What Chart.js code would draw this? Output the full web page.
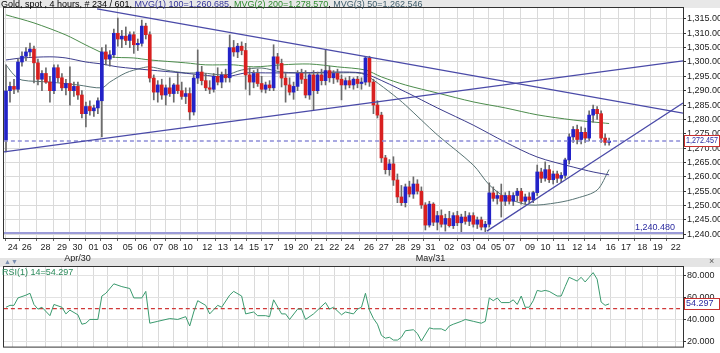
<!DOCTYPE html>
<html>
<head>
<meta charset="utf-8">
<script src="https://cdn.jsdelivr.net/npm/chart.js@4.4.1/dist/chart.umd.min.js"></script>
<style>
body { margin:0; width:720px; height:353px; background:#fff; overflow:hidden; position:relative;
       font-family:'Liberation Sans Narrow','Liberation Sans',Arial,sans-serif; }
#head { position:absolute; left:0; top:0; width:720px; height:8px; background:#e8e8e8; }
#title { position:absolute; left:1px; top:-1px; font-size:9px; line-height:10px; white-space:nowrap; color:#000; z-index:2; }
#sep { position:absolute; left:0; top:258px; width:720px; height:9px; background:#e4e4e4; }
#arrows { position:absolute; left:4px; top:257px; font-size:7px; line-height:9px; color:#7a8fb0; z-index:2; }
#close { position:absolute; left:709px; top:256px; font-size:9px; line-height:10px; color:#555; z-index:2; }
#rsiLabel { position:absolute; left:2px; top:267px; font-size:9px; line-height:10px; color:#2a8a5a; z-index:2; }
#main { position:absolute; left:0; top:0; z-index:1; }
#rsi { position:absolute; left:0; top:260px; z-index:1; }
</style>
</head>
<body>
<div id="head"></div>
<div id="sep"></div>
<canvas id="main" width="720" height="262"></canvas>
<canvas id="rsi" width="720" height="93"></canvas>
<div id="title">Gold, spot , 4 hours, # 234 / 601, <span style="color:#333399">MVG(1) 100=1,260.685</span>, <span style="color:#2e8b2e">MVG(2) 200=1,278.570</span>, <span style="color:#3d5c6b">MVG(3) 50=1,262.546</span></div>
<div id="arrows">&#9650;&#9660;</div>
<div id="close">&#215;</div>
<div id="rsiLabel">RSI(1) 14=54.297</div>
<script>
// 4h candles
const opens = [1272.8,1290.0,1291.5,1290.5,1300.0,1302.0,1303.5,1304.5,1299.7,1294.0,
  1296.0,1293.0,1290.0,1298.0,1294.5,1291.0,1292.5,1290.0,1291.5,1288.5,
  1282.0,1284.5,1283.0,1284.0,1286.5,1303.5,1301.0,1302.5,1310.0,1308.0,
  1309.0,1307.5,1309.5,1306.0,1306.5,1312.5,1309.5,1294.4,1289.5,1292.0,
  1288.5,1291.0,1289.0,1292.0,1290.0,1288.0,1289.0,1282.6,1294.4,1296.5,
  1293.5,1291.0,1290.5,1295.0,1293.0,1295.5,1294.5,1305.0,1303.5,1305.5,
  1304.0,1295.5,1293.0,1296.0,1292.5,1290.5,1292.0,1291.0,1301.8,1299.5,
  1294.4,1292.0,1289.5,1291.5,1296.0,1294.0,1288.5,1295.5,1290.0,1295.5,
  1293.5,1297.0,1294.5,1296.0,1294.0,1292.0,1293.5,1292.0,1294.0,1292.5,
  1293.0,1301.4,1293.0,1285.0,1281.5,1266.6,1262.5,1264.5,1258.9,1253.0,
  1251.0,1256.5,1254.0,1257.5,1255.0,1250.2,1243.2,1250.5,1244.2,1246.5,
  1243.5,1245.5,1243.0,1246.5,1244.0,1246.0,1244.5,1246.5,1243.5,1245.0,
  1242.5,1243.5,1254.4,1252.5,1253.5,1251.5,1253.5,1251.5,1253.5,1255.0,
  1251.5,1253.0,1252.0,1254.5,1261.7,1259.5,1262.5,1259.0,1261.0,1259.5,
  1260.5,1265.9,1273.9,1276.5,1273.0,1275.5,1273.5,1281.5,1283.5,1282.0,
  1273.5,1272.0];
const highs = [1299.0,1293.0,1294.0,1301.0,1303.5,1305.0,1306.6,1305.5,1301.0,1297.0,
  1298.0,1295.0,1299.0,1299.0,1296.0,1294.0,1298.3,1293.0,1293.0,1290.0,
  1286.0,1286.5,1285.0,1287.5,1305.0,1306.0,1304.0,1311.5,1315.3,1311.0,
  1312.2,1310.5,1310.5,1308.0,1314.6,1313.5,1310.5,1295.5,1293.5,1294.0,
  1292.0,1294.5,1292.5,1296.0,1293.0,1291.0,1291.0,1295.5,1304.2,1298.5,
  1296.0,1293.5,1296.0,1298.0,1296.5,1297.5,1309.4,1307.5,1306.5,1307.0,
  1306.5,1298.0,1297.0,1297.5,1295.0,1293.0,1293.5,1306.0,1303.0,1301.0,
  1296.0,1294.5,1293.0,1297.0,1297.5,1297.0,1296.0,1297.0,1296.5,1297.5,
  1304.2,1298.5,1297.0,1297.5,1295.5,1294.5,1295.0,1294.5,1295.0,1294.5,
  1301.8,1302.0,1294.0,1286.5,1282.5,1267.5,1266.0,1267.0,1261.0,1257.0,
  1257.5,1258.5,1260.0,1259.0,1256.5,1251.0,1251.5,1251.0,1248.0,1248.5,
  1247.0,1248.0,1247.5,1248.0,1247.0,1248.0,1247.5,1247.5,1246.0,1246.0,
  1244.5,1257.9,1256.5,1255.0,1257.5,1254.5,1255.0,1254.5,1256.0,1256.0,
  1254.0,1254.5,1255.0,1264.1,1263.0,1265.2,1264.0,1262.0,1262.0,1261.5,
  1266.5,1275.0,1277.5,1278.0,1277.4,1277.0,1283.0,1285.0,1284.5,1283.0,
  1275.0,1273.5];
const lows = [1268.7,1286.0,1289.0,1289.5,1298.5,1300.5,1302.0,1292.7,1292.0,1290.0,
  1292.5,1286.0,1289.0,1293.0,1290.0,1288.5,1285.0,1288.0,1287.0,1280.5,
  1277.4,1281.5,1281.0,1282.0,1273.9,1299.0,1298.5,1301.5,1305.5,1305.0,
  1306.0,1305.0,1303.0,1304.0,1305.5,1308.0,1293.0,1286.8,1286.0,1287.0,
  1285.0,1288.0,1286.0,1289.0,1287.0,1285.5,1279.8,1281.5,1292.5,1292.0,
  1290.0,1289.0,1289.5,1292.0,1291.0,1293.0,1293.0,1302.0,1301.5,1302.5,
  1290.5,1288.5,1291.0,1291.5,1289.5,1289.2,1290.0,1290.0,1297.5,1291.3,
  1286.0,1288.5,1287.0,1290.0,1292.5,1287.5,1287.0,1283.3,1289.0,1292.0,
  1292.0,1293.0,1292.5,1293.0,1286.8,1290.5,1291.0,1290.5,1291.0,1290.5,
  1292.0,1291.5,1282.0,1280.5,1265.0,1261.0,1260.5,1257.0,1251.0,1250.0,
  1249.5,1253.0,1252.5,1254.0,1249.0,1241.5,1242.5,1243.0,1241.5,1242.5,
  1241.1,1242.5,1242.0,1243.0,1240.8,1243.5,1243.0,1242.5,1242.0,1241.5,
  1240.48,1242.5,1251.5,1250.5,1246.0,1250.0,1250.5,1250.0,1251.5,1250.5,
  1250.5,1251.0,1251.0,1253.5,1258.0,1258.5,1258.0,1257.5,1258.0,1258.0,
  1259.5,1264.5,1272.0,1271.5,1271.5,1272.0,1272.5,1279.0,1280.0,1272.0,
  1271.0,1271.0];
const closes = [1289.9,1291.5,1290.5,1300.0,1302.0,1303.5,1304.5,1299.7,1294.0,1296.0,
  1293.0,1290.0,1298.0,1294.5,1291.0,1292.5,1290.0,1291.5,1288.5,1282.0,
  1284.5,1283.0,1284.0,1286.5,1303.5,1301.0,1302.5,1310.0,1308.0,1309.0,
  1307.5,1309.5,1306.0,1306.5,1312.5,1309.5,1294.4,1289.5,1292.0,1288.5,
  1291.0,1289.0,1292.0,1290.0,1288.0,1289.0,1282.6,1294.4,1296.5,1293.5,
  1291.0,1290.5,1295.0,1293.0,1295.5,1294.5,1305.0,1303.5,1305.5,1304.0,
  1295.5,1293.0,1296.0,1292.5,1290.5,1292.0,1291.0,1301.8,1299.5,1294.4,
  1292.0,1289.5,1291.5,1296.0,1294.0,1288.5,1295.5,1290.0,1295.5,1293.5,
  1297.0,1294.5,1296.0,1294.0,1292.0,1293.5,1292.0,1294.0,1292.5,1293.0,
  1301.4,1293.0,1285.0,1281.5,1266.6,1262.5,1264.5,1258.9,1253.0,1251.0,
  1256.5,1254.0,1257.5,1255.0,1250.2,1243.2,1250.5,1244.2,1246.5,1243.5,
  1245.5,1243.0,1246.5,1244.0,1246.0,1244.5,1246.5,1243.5,1245.0,1242.5,
  1243.5,1254.4,1252.5,1253.5,1251.5,1253.5,1251.5,1253.5,1255.0,1251.5,
  1253.0,1252.0,1254.5,1261.7,1259.5,1262.5,1259.0,1261.0,1259.5,1260.5,
  1265.9,1273.9,1276.5,1273.0,1275.5,1273.5,1281.5,1283.5,1282.0,1273.5,
  1272.0,1272.457];

// moving averages, sampled at candle index
const ma200At = [0,7,15,20,24,26,32,36,45,50,57,62,69,76,83,90,94,100,108,117,125,133,142,147,151];
const ma200 = [1316.4,1313.6,1309.4,1305.9,1303.2,1301.8,1301.4,1300.7,1299.7,1299.0,1299.0,1298.3,1299.0,1299.3,1298.3,1297.2,1294.8,1292.0,1289.2,1286.1,1284.0,1281.6,1279.8,1279.1,1278.57];
const ma100At = [0,4,11,15,20,24,28,36,44,49,55,60,65,74,83,89,92,100,108,117,125,133,142,147,151];
const ma100 = [1300.7,1301.4,1301.8,1301.4,1300.0,1299.3,1298.3,1297.2,1296.2,1295.5,1294.8,1296.2,1296.2,1296.2,1296.5,1296.2,1294.8,1289.6,1284.0,1278.0,1272.1,1266.9,1263.4,1261.7,1260.685];
const ma50At = [0,2,4,11,18,24,26,30,34,36,40,45,49,55,59,64,69,76,83,89,92,97,100,108,117,121,125,131,138,143,148,151];
const ma50 = [1299.0,1295.5,1293.7,1293.0,1292.0,1291.0,1293.0,1296.2,1297.9,1298.3,1297.2,1296.2,1296.2,1295.5,1297.2,1297.9,1296.5,1296.2,1296.2,1296.0,1293.7,1288.5,1285.0,1274.6,1264.1,1257.2,1253.0,1250.2,1251.0,1252.6,1255.4,1262.546];

// trend lines: [startIndex, startValue, endIndex, endValue]
const trendDown = [22.8, 1318.5, 169.5, 1282.2];
const trendUpLong = [-0.5, 1268.7, 169.5, 1300.4];
const trendUpShort = [120.4, 1241.1, 169.5, 1285.7];
const lastPrice = 1272.457;
const periodLow = 1240.48;

// RSI(14), sampled at candle index
const rsiAt = [0,1,2,3,5,6,7,8,9,11,12,14,15,16,18,19,20,21,23,24,25,27,29,31,32,34,35,36,38,41,
  43,45,46,47,48,50,51,53,54,56,57,59,60,62,63,65,66,67,69,70,71,73,74,75,77,80,81,82,84,85,
  87,88,89,90,91,92,93,94,95,96,97,98,99,100,102,103,104,106,107,109,110,111,112,114,115,117,119,120,121,122,
  123,124,126,127,128,129,130,131,132,133,134,135,136,138,139,140,141,142,143,144,145,146,147,148,149,150,151];
const rsiVal = [51.3,53.0,53.0,59.7,62.2,63.9,53.8,49.6,51.3,43.7,53.8,51.3,45.3,48.7,44.5,36.0,36.9,40.3,40.3,61.4,63.9,72.4,69.9,68.2,59.7,59.7,65.6,36.9,38.6,41.1,
  40.3,42.8,34.4,47.0,57.2,53.0,45.3,53.0,51.3,62.2,65.6,61.4,45.3,47.0,43.7,43.7,42.8,58.0,45.3,45.3,40.3,49.6,49.6,40.3,45.3,55.5,49.6,51.3,44.5,47.0,
  45.3,49.6,51.3,63.9,48.7,41.1,36.0,25.9,23.4,24.2,21.7,21.7,24.2,30.1,31.0,27.6,20.8,32.7,31.8,31.8,30.1,34.4,36.0,38.6,40.3,38.6,36.9,38.6,59.7,57.2,
  59.7,55.5,55.5,58.0,53.8,61.4,51.3,51.3,57.2,66.5,65.6,66.5,65.6,61.4,61.4,70.0,78.3,76.6,74.9,78.3,74.1,78.3,82.5,76.6,56.0,53.0,54.297];
const rsiLast = 54.297;
const rsiMid = 50;

// date ticks on the candle index axis
const tickAt = [1.7,5.2,9.9,14.0,17.9,21.9,25.4,30.5,34.2,38.1,41.9,45.5,50.4,54.3,58.2,62.1,65.7,70.7,74.4,78.4,82.2,86.0,
  90.9,94.6,98.7,102.6,106.3,111.0,115.1,118.9,122.7,126.2,131.2,135.1,138.9,143.0,146.5,151.4,155.2,159.3,163.2,167.7];
const tickText = ['24','26','28','29',['30','Apr/30'],'01','03','05','06','07','08','10','12','13','14','15','17','19','20','21','22','24',
  '26','27','28','29',['31','May/31'],'02','03','04','05','07','09','10','11','12','14','16','17','18','19','22'];

const FONT = "'Liberation Sans Narrow','Liberation Sans',Arial,sans-serif";
const X_MIN = -0.5, X_MAX = 169.5;
const fmt = v => Number(v).toLocaleString('en-US', { minimumFractionDigits: 3, maximumFractionDigits: 3 });
const pts = (xs, ys) => xs.map((x, k) => ({ x: x, y: ys[k] }));
const seg = t => [{ x: t[0], y: t[1] }, { x: t[2], y: t[3] }];
const flat = v => [{ x: X_MIN, y: v }, { x: X_MAX, y: v }];

const lineDs = (data, color, width, order, dash) => ({
  type: 'line', data: data, borderColor: color, borderWidth: width, pointRadius: 0,
  tension: 0.3, order: order, borderDash: dash || [], spanGaps: true
});

const frame = {
  id: 'frame',
  beforeDraw(chart) {
    const a = chart.chartArea, c = chart.ctx;
    c.save(); c.fillStyle = '#fff'; c.fillRect(a.left, a.top, a.right - a.left, a.bottom - a.top); c.restore();
  },
  afterDraw(chart) {
    const a = chart.chartArea, c = chart.ctx;
    c.save();
    c.strokeStyle = '#333'; c.lineWidth = 1;
    c.strokeRect(a.left - 0.5, a.top - 0.5, a.right - a.left + 1, a.bottom - a.top + 1);
    const box = chart.options.plugins.frame;
    if (box) {
      const y = Math.round(chart.scales.y.getPixelForValue(box.value));
      c.fillStyle = '#fff'; c.fillRect(a.right + 1, y - 6, 36, 12);
      c.strokeStyle = '#c83030'; c.strokeRect(a.right + 1.5, y - 5.5, 35, 11);
      c.fillStyle = '#2a2aa0'; c.font = '9px ' + FONT; c.textBaseline = 'middle'; c.textAlign = 'left';
      c.fillText(fmt(box.value), a.right + 3, y, 32);
      if (box.low !== undefined) {
        const yl = chart.scales.y.getPixelForValue(box.low);
        c.textAlign = 'right'; c.textBaseline = 'bottom';
        c.fillText(fmt(box.low), a.right - 8, yl - 1);
      }
    }
    c.restore();
  }
};

const xScale = (showLabels) => ({
  type: 'linear', min: X_MIN, max: X_MAX, offset: false,
  afterBuildTicks: s => { s.ticks = tickAt.map(v => ({ value: v })); },
  afterFit: s => { s.height = showLabels ? 24 : 1; },
  ticks: { display: showLabels, autoSkip: false, maxRotation: 0, padding: 1, color: '#222',
           font: { size: 9, family: FONT, lineHeight: 1.25 }, callback: (v, i) => tickText[i] },
  grid: { color: '#dadada', drawTicks: showLabels, tickLength: 3, tickColor: '#666' },
  border: { display: false }
});

const candleUp = '#2323c8', candleDown = '#d82020';
const bodyColors = opens.map((o, i) => closes[i] >= o ? candleUp : candleDown);

new Chart(document.getElementById('main'), {
  type: 'bar',
  data: {
    datasets: [
      lineDs(seg(trendDown), '#4a4aa8', 1.3, 0),
      lineDs(seg(trendUpLong), '#4a4aa8', 1.3, 0),
      lineDs(seg(trendUpShort), '#4a4aa8', 1.3, 0),
      lineDs(flat(lastPrice), '#8c8cd8', 1.5, 0, [4, 3]),
      lineDs(flat(periodLow), '#9c9cd8', 2, 0),
      { type: 'bar', data: opens.map((o, i) => ({ x: i, y: [o, closes[i]] })), backgroundColor: bodyColors,
        barThickness: 3, minBarLength: 1, grouped: false, order: 1 },
      { type: 'bar', data: lows.map((l, i) => ({ x: i, y: [l, highs[i]] })), backgroundColor: '#6a6a6a',
        barThickness: 1, grouped: false, order: 2 },
      lineDs(pts(ma200At, ma200), '#4c8c4c', 1, 3),
      lineDs(pts(ma100At, ma100), '#3c3c8c', 1, 3),
      lineDs(pts(ma50At, ma50), '#587474', 1, 3)
    ]
  },
  options: {
    responsive: false, animation: false,
    layout: { padding: { left: 4, top: 8, right: 0, bottom: 0 } },
    plugins: { legend: { display: false }, tooltip: { enabled: false },
               frame: { value: lastPrice, low: periodLow } },
    scales: {
      x: xScale(true),
      y: { position: 'right', min: 1238.7, max: 1318.8,
           afterFit: s => { s.width = 37; },
           ticks: { stepSize: 5, includeBounds: false, padding: 1, color: '#222',
                    font: { size: 9, family: FONT }, callback: v => fmt(v) },
           grid: { color: '#dadada', tickLength: 3, tickColor: '#333' },
           border: { display: false } }
    }
  },
  plugins: [frame]
});

new Chart(document.getElementById('rsi'), {
  type: 'line',
  data: {
    datasets: [
      lineDs(flat(rsiMid), '#d03838', 1.3, 1, [4, 3]),
      Object.assign(lineDs(pts(rsiAt, rsiVal), '#3a9a6e', 1, 0), { tension: 0 })
    ]
  },
  options: {
    responsive: false, animation: false,
    layout: { padding: { left: 4, top: 7, right: 0, bottom: 0 } },
    plugins: { legend: { display: false }, tooltip: { enabled: false }, frame: { value: rsiLast } },
    scales: {
      x: xScale(false),
      y: { position: 'right', min: 15.8, max: 87.6,
           afterFit: s => { s.width = 37; },
           ticks: { stepSize: 20, includeBounds: false, padding: 1, color: '#222',
                    font: { size: 9, family: FONT }, callback: v => fmt(v) },
           grid: { color: '#e2e2e2', tickLength: 3, tickColor: '#333' },
           border: { display: false } }
    }
  },
  plugins: [frame]
});
</script>
</body>
</html>
